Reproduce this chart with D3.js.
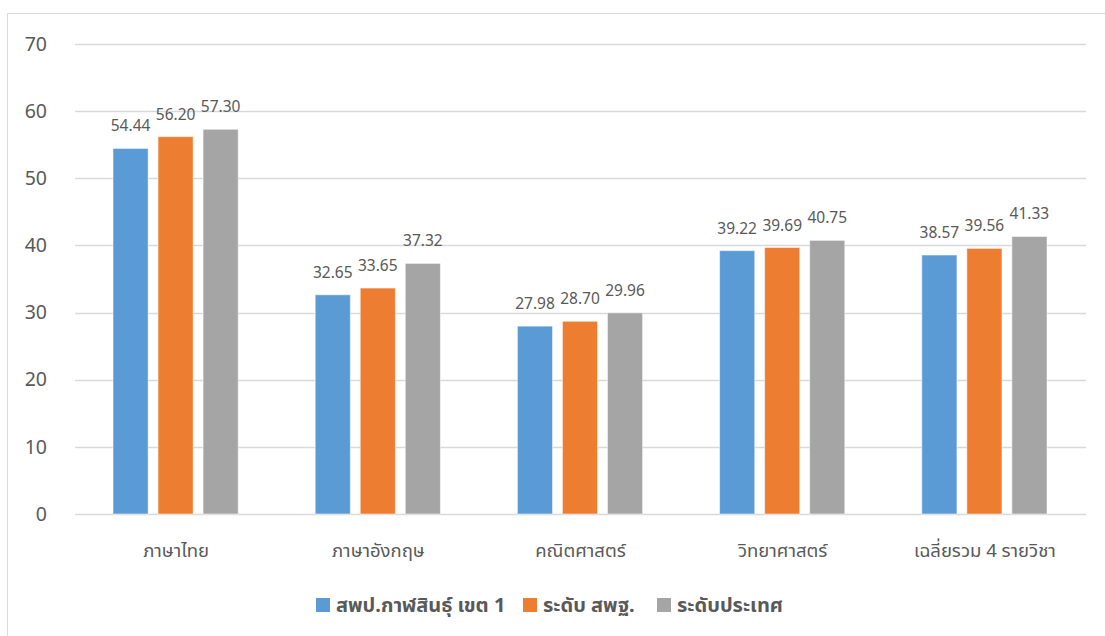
<html>
<head>
<meta charset="utf-8">
<script src="https://cdn.jsdelivr.net/npm/d3@7"></script>
<style>
  body { margin: 0; background: #fff; }
  text { font-family: "Noto Sans", "Noto Sans Thai", sans-serif; fill: #595959; }
</style>
</head>
<body>
<div id="chart"></div>
<script>
  // categories and series
  var subjects = ["ภาษาไทย", "ภาษาอังกฤษ", "คณิตศาสตร์", "วิทยาศาสตร์", "เฉลี่ยรวม 4 รายวิชา"];
  var seriesNames = ["สพป.กาฬสินธุ์ เขต 1", "ระดับ สพฐ.", "ระดับประเทศ"];
  var district = [54.44, 32.65, 27.98, 39.22, 38.57];
  var obec = [56.20, 33.65, 28.70, 39.69, 39.56];
  var national = [57.30, 37.32, 29.96, 40.75, 41.33];
  var yTicks = [0, 10, 20, 30, 40, 50, 60, 70];
  var colors = ["#5B9BD5", "#ED7D31", "#A5A5A5"];

  var W = 1105, H = 636;
  var svg = d3.select("#chart").append("svg")
      .attr("width", W).attr("height", H);

  // outer chart border (left + top visible)
  svg.append("path")
      .attr("d", "M7.5," + H + " V13.5 H" + W)
      .attr("fill", "none")
      .attr("stroke", "#d9d9d9");

  var x0 = d3.scaleBand().domain(subjects).range([75, 1086]).paddingInner(0).paddingOuter(0);
  var y = d3.scaleLinear().domain([0, 70]).range([514, 44]);

  // gridlines
  svg.selectAll("line.grid")
      .data(yTicks)
      .enter().append("line")
      .attr("class", "grid")
      .attr("x1", 75).attr("x2", 1086)
      .attr("y1", function (d) { return Math.round(y(d)) + 0.5; })
      .attr("y2", function (d) { return Math.round(y(d)) + 0.5; })
      .attr("stroke", "#d9d9d9")
      .attr("stroke-width", 1.3);

  // y tick labels
  var yAxis = d3.axisLeft(y).tickValues(yTicks).tickSize(0).tickPadding(0);
  var ya = svg.append("g").attr("transform", "translate(47,0)").call(yAxis);
  ya.select(".domain").remove();
  ya.selectAll("text")
      .style("font-size", "19.5px")
      .style("fill", "#595959")
      .style("font-family", "'Noto Sans', sans-serif");

  var rows = subjects.map(function (s, i) {
    return { subject: s, values: [district[i], obec[i], national[i]] };
  });

  var x1 = d3.scaleBand().domain([0, 1, 2])
      .range([38, x0.bandwidth() - 39]).paddingInner(0.22);

  var groups = svg.selectAll("g.cat")
      .data(rows)
      .enter().append("g")
      .attr("class", "cat")
      .attr("transform", function (d) { return "translate(" + x0(d.subject) + ",0)"; });

  groups.selectAll("rect")
      .data(function (d) { return d.values; })
      .enter().append("rect")
      .attr("x", function (d, i) { return x1(i); })
      .attr("width", x1.bandwidth())
      .attr("y", function (d) { return y(d); })
      .attr("height", function (d) { return y(0) - y(d); })
      .attr("fill", function (d, i) { return colors[i]; })
      .attr("stroke", "#fff")
      .attr("stroke-opacity", 0.5)
      .attr("stroke-width", 1);

  groups.selectAll("text.val")
      .data(function (d) { return d.values; })
      .enter().append("text")
      .attr("class", "val")
      .attr("x", function (d, i) { return x1(i) + x1.bandwidth() / 2; })
      .attr("y", function (d) { return y(d) - 17; })
      .attr("text-anchor", "middle")
      .style("font-size", "15.5px")
      .text(function (d) { return d.toFixed(2); });

  // category labels
  svg.selectAll("text.cat")
      .data(subjects)
      .enter().append("text")
      .attr("class", "cat")
      .attr("x", function (d) { return x0(d) + x0.bandwidth() / 2; })
      .attr("y", 557)
      .attr("text-anchor", "middle")
      .style("font-size", "18.5px")
      .text(function (d) { return d; });

  // legend
  var legendX = [316, 523, 657];
  var lg = svg.selectAll("g.legend")
      .data(seriesNames)
      .enter().append("g")
      .attr("class", "legend")
      .attr("transform", function (d, i) { return "translate(" + legendX[i] + ",598)"; });
  lg.append("rect")
      .attr("width", 14).attr("height", 14)
      .attr("fill", function (d, i) { return colors[i]; });
  lg.append("text")
      .attr("x", 20).attr("y", 14)
      .style("font-size", "20px")
      .style("font-weight", "bold")
      .text(function (d) { return d; });
</script>
</body>
</html>
